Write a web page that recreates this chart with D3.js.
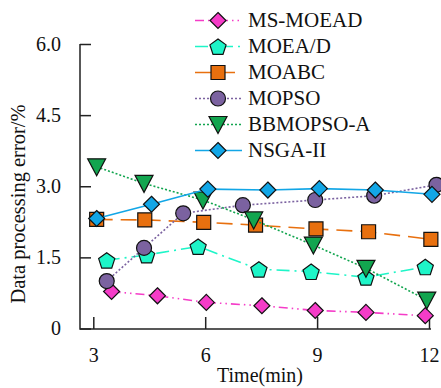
<!DOCTYPE html>
<html>
<head>
<meta charset="utf-8">
<script src="https://cdn.jsdelivr.net/npm/d3@7"></script>
<style>
  body { margin: 0; background: #fff; }
</style>
</head>
<body>
<div class="line-chart"></div>
<script>
// series data (time in min, error in %)
const seriesNames = ['MS-MOEAD', 'MOEA/D', 'MOABC', 'MOPSO', 'BBMOPSO-A', 'NSGA-II'];
const msMoeadT = [3.49, 4.72, 6.03, 7.52, 8.95, 10.31, 11.9];
const msMoeadV = [0.78, 0.69, 0.55, 0.48, 0.38, 0.34, 0.27];
const moeadT = [3.36, 4.43, 5.81, 7.44, 8.84, 10.31, 11.9];
const moeadV = [1.44, 1.55, 1.73, 1.25, 1.2, 1.08, 1.3];
const moabcT = [3.09, 4.38, 5.96, 7.35, 8.97, 10.38, 12.05];
const moabcV = [2.3, 2.29, 2.24, 2.18, 2.1, 2.04, 1.88];
const mopsoT = [3.36, 4.36, 5.41, 7.01, 8.95, 10.53, 12.2];
const mopsoV = [1.0, 1.7, 2.43, 2.6, 2.71, 2.8, 3.03];
const bbT = [3.09, 4.36, 5.94, 7.3, 8.9, 10.31, 11.94];
const bbV = [3.41, 3.06, 2.71, 2.29, 1.76, 1.27, 0.6];
const nsgaT = [3.09, 4.56, 6.07, 7.68, 9.06, 10.56, 12.08];
const nsgaV = [2.32, 2.62, 2.94, 2.92, 2.95, 2.92, 2.83];
const xTicks = [3, 6, 9, 12];
const yTicks = [0, 1.5, 3.0, 4.5, 6.0];

const width = 441;
const height = 388;
const serif = "'Liberation Serif', 'Times New Roman', serif";

const diamond = {
	draw(ctx) {
		const r = 8;
		ctx.moveTo(0, -r); ctx.lineTo(r, 0); ctx.lineTo(0, r); ctx.lineTo(-r, 0); ctx.closePath();
	}
};
const pentagon = {
	draw(ctx) {
		const r = 8.5;
		for (let i = 0; i < 5; i++) {
			const a = -Math.PI / 2 + i * 2 * Math.PI / 5;
			const px = r * Math.cos(a), py = r * Math.sin(a) + 1;
			if (i === 0) ctx.moveTo(px, py); else ctx.lineTo(px, py);
		}
		ctx.closePath();
	}
};
const square = {
	draw(ctx) { ctx.rect(-7, -7, 14, 14); }
};
const circle = {
	draw(ctx) { ctx.moveTo(7.5, 0); ctx.arc(0, 0, 7.5, 0, 2 * Math.PI); }
};
const triDown = {
	draw(ctx) {
		ctx.moveTo(-9, -8); ctx.lineTo(9, -8); ctx.lineTo(0, 9); ctx.closePath();
	}
};

const series = [
	{ name: seriesNames[0], t: msMoeadT, v: msMoeadV, color: '#f53cc8', dash: '9,4,1.5,4,1.5,4', shape: diamond },
	{ name: seriesNames[1], t: moeadT, v: moeadV, color: '#1ef5c8', dash: '13,5,2,5', shape: pentagon },
	{ name: seriesNames[2], t: moabcT, v: moabcV, color: '#e8700f', dash: '16,8', shape: square },
	{ name: seriesNames[3], t: mopsoT, v: mopsoV, color: '#7b62a0', dash: '2,2', shape: circle },
	{ name: seriesNames[4], t: bbT, v: bbV, color: '#12a54f', dash: '2,2', shape: triDown },
	{ name: seriesNames[5], t: nsgaT, v: nsgaV, color: '#12a6e6', dash: null, shape: diamond }
];

const svg = d3.select('.line-chart')
	.append('svg')
	.attr('width', width)
	.attr('height', height);

const x = d3.scaleLinear().domain([3, 12]).range([93.3, 429]);
const y = d3.scaleLinear().domain([0, 6]).range([328.5, 44]);

function styleTicks(g) {
	g.select('.domain').remove();
	g.selectAll('.tick line').attr('stroke', '#222').attr('stroke-width', 1.5);
	g.selectAll('.tick text')
		.style('font-family', serif)
		.style('font-size', '20px')
		.attr('fill', '#111');
}

// axes
svg.append('g')
	.attr('transform', 'translate(0,329)')
	.call(d3.axisBottom(x).tickValues(xTicks).tickSizeInner(-12).tickSizeOuter(0).tickPadding(19).tickFormat(d3.format('d')))
	.call(styleTicks);

svg.append('g')
	.attr('transform', 'translate(80,0)')
	.call(d3.axisLeft(y).tickValues(yTicks).tickSizeInner(-11).tickSizeOuter(0).tickPadding(19)
		.tickFormat(d => d === 0 ? '0' : d3.format('.1f')(d)))
	.call(styleTicks);

svg.append('path')
	.attr('d', 'M80,44V329H431')
	.attr('fill', 'none')
	.attr('stroke', '#222')
	.attr('stroke-width', 1.5);

svg.append('text')
	.attr('x', 260)
	.attr('y', 382)
	.attr('text-anchor', 'middle')
	.style('font-family', serif)
	.style('font-size', '20px')
	.attr('fill', '#111')
	.text('Time(min)');

svg.append('text')
	.attr('transform', 'translate(25,204) rotate(-90)')
	.attr('text-anchor', 'middle')
	.style('font-family', serif)
	.style('font-size', '20.5px')
	.attr('fill', '#111')
	.text('Data processing error/%');

// lines and markers
const line = d3.line().x(d => x(d[0])).y(d => y(d[1]));

series.forEach(s => {
	const pts = s.t.map((t, i) => [t, s.v[i]]);
	svg.append('path')
		.datum(pts)
		.attr('d', line)
		.attr('fill', 'none')
		.attr('stroke', s.color)
		.attr('stroke-width', 1.6)
		.attr('stroke-dasharray', s.dash);
	svg.selectAll(null)
		.data(pts)
		.enter()
		.append('path')
		.attr('transform', d => 'translate(' + x(d[0]) + ',' + y(d[1]) + ')')
		.attr('d', d3.symbol().type(s.shape))
		.attr('fill', s.color)
		.attr('stroke', '#111')
		.attr('stroke-width', 1.2);
});

// legend
const legend = svg.append('g');
series.forEach((s, i) => {
	const ly = 20.5 + i * 26;
	legend.append('line')
		.attr('x1', 195).attr('x2', 242)
		.attr('y1', ly).attr('y2', ly)
		.attr('stroke', s.color)
		.attr('stroke-width', 1.6)
		.attr('stroke-dasharray', s.dash);
	legend.append('path')
		.attr('transform', 'translate(218,' + ly + ')')
		.attr('d', d3.symbol().type(s.shape))
		.attr('fill', s.color)
		.attr('stroke', '#111')
		.attr('stroke-width', 1.2);
	legend.append('text')
		.attr('x', 248)
		.attr('y', ly + 6.8)
		.style('font-family', serif)
		.style('font-size', '21px')
		.attr('fill', '#111')
		.text(s.name);
});
</script>
</body>
</html>
